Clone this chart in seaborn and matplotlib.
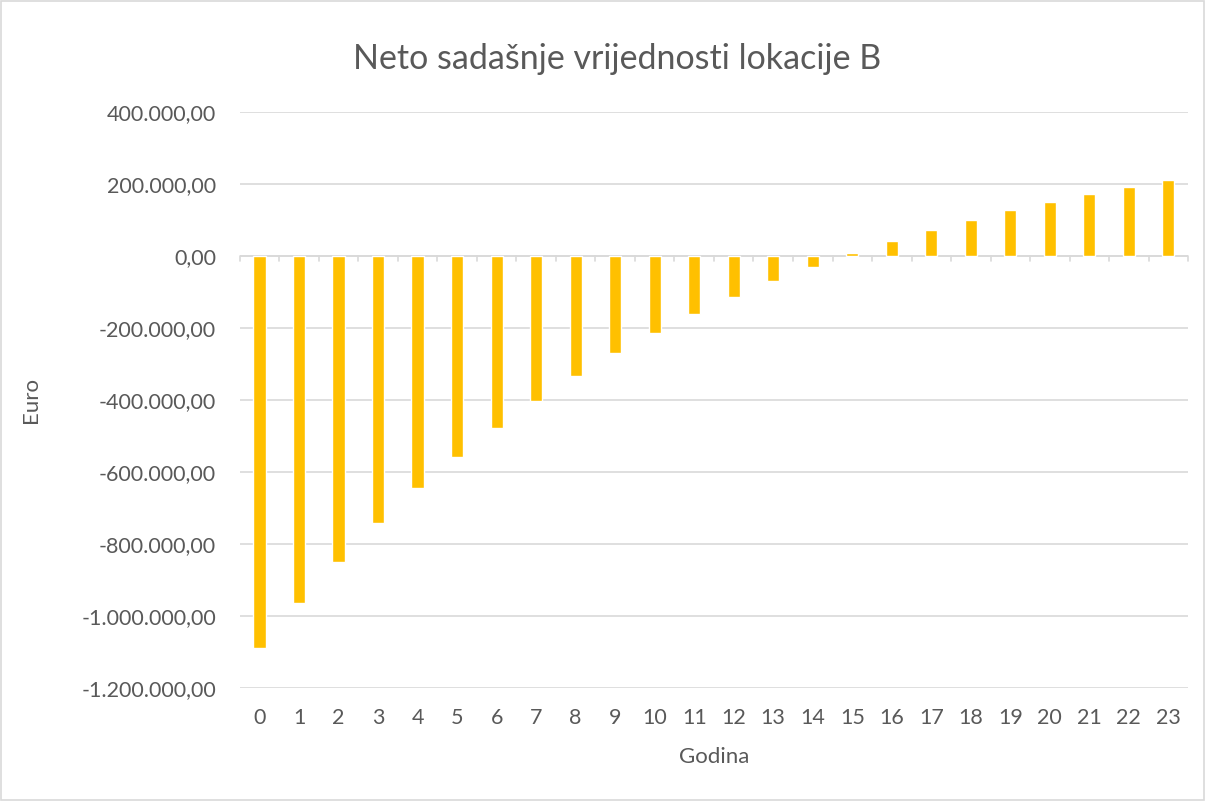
import matplotlib
matplotlib.use("Agg")
import matplotlib.pyplot as plt
from matplotlib.ticker import FuncFormatter, MultipleLocator
from matplotlib.patches import Rectangle
import seaborn as sns
import pandas as pd

years = list(range(24))
npv = [-1090000, -965000, -849000, -742000, -645000, -557000, -477000, -402000,
       -334000, -269000, -214000, -161000, -114000, -69000, -30000, 7500,
       42000, 72000, 100000, 128000, 151000, 172000, 193000, 211000]

title = "Neto sadašnje vrijednosti lokacije B"
xlabel = "Godina"
ylabel = "Euro"

df = pd.DataFrame({"Godina": years, "Euro": npv})

sns.set_theme(style="white")
plt.rcParams["font.family"] = ["Lato", "DejaVu Sans"]

fig = plt.figure(figsize=(12.05, 8.01), dpi=100)
ax = fig.add_axes([0.199, 0.141, 0.787, 0.719])

sns.barplot(data=df, x="Godina", y="Euro", color="#FFC000", width=0.31,
            saturation=1, ax=ax, zorder=3)

ax.set_ylim(-1200000, 400000)
ax.set_xlim(-0.5, 23.5)
ax.yaxis.set_major_locator(MultipleLocator(200000))

def eu_fmt(v, _):
    s = f"{abs(v):,.2f}".replace(",", "X").replace(".", ",").replace("X", ".")
    return ("-" if v < 0 else "") + s

ax.yaxis.set_major_formatter(FuncFormatter(eu_fmt))
ax.grid(axis="y", color="#D9D9D9", linewidth=1.2, zorder=0)
for s in ax.spines.values():
    s.set_visible(False)

# zero line with category boundary ticks
ax.axhline(0, color="#D9D9D9", linewidth=1.2, zorder=2)
for b in [i - 0.5 for i in range(25)]:
    ax.plot([b, b], [0, -14000], color="#D9D9D9", linewidth=1.2, zorder=2,
            clip_on=False)

ax.tick_params(axis="both", length=0, labelsize=15.5, colors="#595959")
ax.tick_params(axis="x", pad=14)
ax.tick_params(axis="y", pad=17)
ax.set_xlabel(xlabel, fontsize=16, color="#595959", labelpad=14)
ax.set_ylabel(ylabel, fontsize=16, color="#595959")
ax.yaxis.set_label_coords(-0.21, 0.5)
fig.text(0.512, 0.926, title, ha="center", va="center", fontsize=24.5,
         color="#595959")

fig.patches.append(Rectangle((0.001, 0.001), 0.998, 0.998, transform=fig.transFigure,
                             fill=False, edgecolor="#D9D9D9", linewidth=1.2))

fig.savefig("out.png", dpi=100, facecolor="white")
